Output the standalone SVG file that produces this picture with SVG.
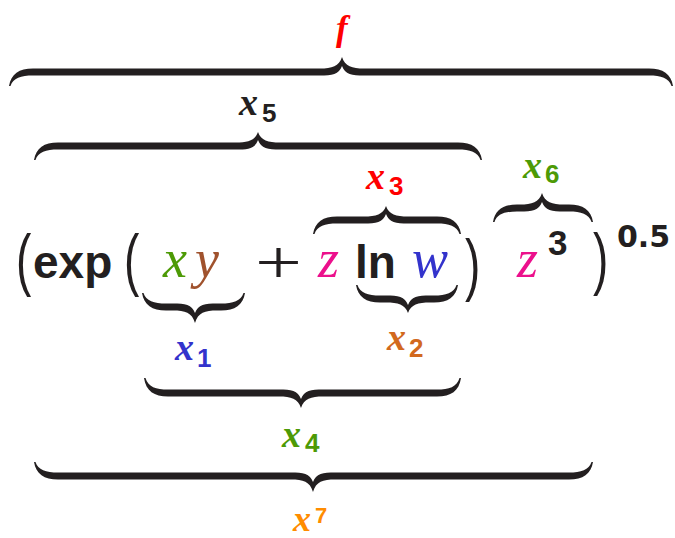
<svg xmlns="http://www.w3.org/2000/svg" width="675" height="538" viewBox="0 0 675 538">
<style>
.br{fill:#231f20}
.mi{font-family:"Liberation Serif",serif;font-style:italic;font-size:54px}
.lbl{font-family:"Liberation Serif",serif;font-style:italic;font-weight:bold;font-size:38px}
.sub{font-family:"Liberation Sans",sans-serif;font-weight:bold;font-size:26px}
.op{font-family:"Liberation Sans",sans-serif;font-weight:bold;font-size:46px;fill:#231f20}
.paren{font-family:"Liberation Sans",sans-serif;font-size:40px;fill:#231f20}
.blk{fill:#231f20}.red{fill:#ff0000}.grn{fill:#4d9a06}.brn{fill:#a0522d}.mag{fill:#ec108c}.blu{fill:#3333cc}.cho{fill:#d2691e}.org{fill:#ff8c00}
</style>
<g id="expression">
<text class="paren" transform="translate(16,283) scale(1.15,1.7)">(</text>
<text class="op" x="33" y="278">exp</text>
<text class="paren" transform="translate(124,283) scale(1.15,1.7)">(</text>
<text class="mi grn" x="163" y="277">x</text>
<text class="mi brn" x="195" y="277">y</text>
<text x="255" y="283" font-family="Liberation Serif, serif" font-size="62" textLength="47" lengthAdjust="spacingAndGlyphs" class="blk">+</text>
<text class="mi mag" x="318" y="277">z</text>
<text class="op" x="355" y="278">ln</text>
<text class="mi blu" x="412" y="277">w</text>
<text class="paren" transform="translate(465,288) scale(1.15,1.7)">)</text>
<text class="mi mag" x="517" y="277">z</text>
<text x="548" y="255" font-family="Liberation Sans, sans-serif" font-weight="bold" font-size="35" class="blk">3</text>
<text class="paren" transform="translate(593,282) scale(1.15,1.7)">)</text>
<text x="617" y="247" font-family="DejaVu Sans, sans-serif" font-weight="bold" font-size="30" class="blk">0.5</text>
</g>
<g id="braces">
<g id="brace-f">
<path class="br" transform="translate(9,72)" d="M0,14 C2,2 10,-3.5 24,-3.5 L311,-3.5 C323,-3.5 330,-5.5 333,-15 C336,-5.5 343,-3.5 355,-3.5 L640,-3.5 C654,-3.5 662,2 664,14 L662.5,14 C660,6 652,3.5 640,3.5 L355,3.5 C343,3.5 336,2.5 333,-6 C330,2.5 323,3.5 311,3.5 L24,3.5 C12,3.5 4,6 1.5,14 Z"/>
<text class="mi red" x="336" y="40" style="font-size:35px;font-weight:bold">f</text>
</g>
<g id="brace-x5">
<path class="br" transform="translate(34,146)" d="M0,14 C2,2 10,-3.5 24,-3.5 L202,-3.5 C214,-3.5 221,-5.5 224,-14 C227,-5.5 234,-3.5 246,-3.5 L424,-3.5 C438,-3.5 446,2 448,14 L446.5,14 C444,6 436,3.5 424,3.5 L246,3.5 C234,3.5 227,2.5 224,-6 C221,2.5 214,3.5 202,3.5 L24,3.5 C12,3.5 4,6 1.5,14 Z"/>
<text class="lbl blk" x="239" y="115">x</text><text class="sub blk" x="262" y="122">5</text>
</g>
<g id="brace-x3">
<path class="br" transform="translate(313,220)" d="M0,14 C2,2 10,-3.5 24,-3.5 L51,-3.5 C63,-3.5 70,-5.5 73,-14 C76,-5.5 83,-3.5 95,-3.5 L124,-3.5 C138,-3.5 146,2 148,14 L146.5,14 C144,6 136,3.5 124,3.5 L95,3.5 C83,3.5 76,2.5 73,-6 C70,2.5 63,3.5 51,3.5 L24,3.5 C12,3.5 4,6 1.5,14 Z"/>
<text class="lbl red" x="366" y="189">x</text><text class="sub red" x="389" y="195">3</text>
</g>
<g id="brace-x6">
<path class="br" transform="translate(493,208)" d="M0,14 C2,2 10,-3.5 24,-3.5 L27,-3.5 C39,-3.5 46,-5.5 49,-15 C52,-5.5 59,-3.5 71,-3.5 L76,-3.5 C90,-3.5 98,2 100,14 L98.5,14 C96,6 88,3.5 76,3.5 L71,3.5 C59,3.5 52,2.5 49,-6 C46,2.5 39,3.5 27,3.5 L24,3.5 C12,3.5 4,6 1.5,14 Z"/>
<text class="lbl grn" x="523" y="178">x</text><text class="sub grn" x="545" y="183">6</text>
</g>
<g id="brace-x1">
<path class="br" transform="translate(142,307) scale(1,-1)" d="M0,14 C2,2 10,-3.5 24,-3.5 L31,-3.5 C43,-3.5 50,-5.5 53,-16 C56,-5.5 63,-3.5 75,-3.5 L79,-3.5 C93,-3.5 101,2 103,14 L101.5,14 C99,6 91,3.5 79,3.5 L75,3.5 C63,3.5 56,2.5 53,-6 C50,2.5 43,3.5 31,3.5 L24,3.5 C12,3.5 4,6 1.5,14 Z"/>
<text class="lbl blu" x="175" y="360">x</text><text class="sub blu" x="197" y="367">1</text>
</g>
<g id="brace-x2">
<path class="br" transform="translate(356,299) scale(1,-1)" d="M0,14 C2,2 10,-3.5 24,-3.5 L30,-3.5 C42,-3.5 49,-5.5 52,-14 C55,-5.5 62,-3.5 74,-3.5 L78,-3.5 C92,-3.5 100,2 102,14 L100.5,14 C98,6 90,3.5 78,3.5 L74,3.5 C62,3.5 55,2.5 52,-6 C49,2.5 42,3.5 30,3.5 L24,3.5 C12,3.5 4,6 1.5,14 Z"/>
<text class="lbl cho" x="387" y="350">x</text><text class="sub cho" x="409" y="357">2</text>
</g>
<g id="brace-x4">
<path class="br" transform="translate(144,393) scale(1,-1)" d="M0,15 C2,2 10,-3.5 24,-3.5 L135,-3.5 C147,-3.5 154,-5.5 157,-15 C160,-5.5 167,-3.5 179,-3.5 L293,-3.5 C307,-3.5 315,2 317,15 L315.5,15 C313,6 305,3.5 293,3.5 L179,3.5 C167,3.5 160,2.5 157,-6 C154,2.5 147,3.5 135,3.5 L24,3.5 C12,3.5 4,6 1.5,15 Z"/>
<text class="lbl grn" x="282" y="447">x</text><text class="sub grn" x="305" y="452">4</text>
</g>
<g id="brace-x7">
<path class="br" transform="translate(34,476) scale(1,-1)" d="M0,14 C2,2 10,-3.5 24,-3.5 L257,-3.5 C269,-3.5 276,-5.5 279,-16 C282,-5.5 289,-3.5 301,-3.5 L535,-3.5 C549,-3.5 557,2 559,14 L557.5,14 C555,6 547,3.5 535,3.5 L301,3.5 C289,3.5 282,2.5 279,-6 C276,2.5 269,3.5 257,3.5 L24,3.5 C12,3.5 4,6 1.5,14 Z"/>
<text class="lbl org" x="293" y="531" style="font-size:36px">x</text><text class="sub org" x="315" y="523" style="font-size:22px">7</text>
</g>
</g>
</svg>
